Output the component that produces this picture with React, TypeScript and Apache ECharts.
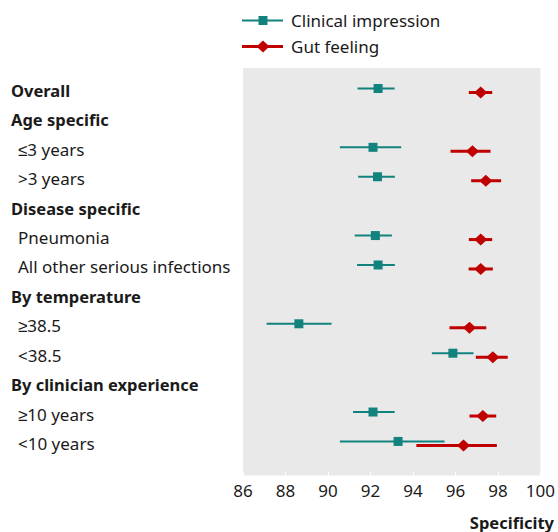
import React, { useEffect, useRef } from "react";
import * as echarts from "echarts";

const rowLabels = [
  "Overall",
  "Age specific",
  "≤3 years",
  ">3 years",
  "Disease specific",
  "Pneumonia",
  "All other serious infections",
  "By temperature",
  "≥38.5",
  "<38.5",
  "By clinician experience",
  "≥10 years",
  "<10 years",
];
const isHeader = [true, true, false, false, true, false, false, true, false, false, true, false, false];

const clinicalLow = [91.39, null, 90.56, 91.42, null, 91.26, 91.37, null, 87.11, 94.89, null, 91.18, 90.56];
const clinicalPoint = [92.36, null, 92.12, 92.33, null, 92.23, 92.36, null, 88.63, 95.88, null, 92.12, 93.3];
const clinicalHigh = [93.14, null, 93.45, 93.15, null, 93.01, 93.15, null, 90.17, 96.85, null, 93.14, 95.49];

const gutLow = [96.63, null, 95.77, 96.74, null, 96.63, 96.62, null, 95.72, 96.96, null, 96.66, 94.16];
const gutPoint = [97.19, null, 96.8, 97.43, null, 97.19, 97.19, null, 96.66, 97.76, null, 97.29, 96.38];
const gutHigh = [97.73, null, 97.65, 98.15, null, 97.73, 97.76, null, 97.45, 98.46, null, 97.92, 97.95];

const xTicks = [86, 88, 90, 92, 94, 96, 98, 100];
const seriesNames = ["Clinical impression", "Gut feeling"];
const xAxisTitle = "Specificity";

const TEAL = "#12827f";
const RED = "#c00000";
const TEXT = "#1a1a1a";
const FONT = "'Noto Sans', sans-serif";

function buildData(lo: (number | null)[], pt: (number | null)[], hi: (number | null)[]) {
  const out: number[][] = [];
  for (let i = 0; i < rowLabels.length; i++) {
    if (pt[i] == null) continue;
    out.push([i, lo[i] as number, pt[i] as number, hi[i] as number]);
  }
  return out;
}

function makeRender(color: string, off: number, lineWidth: number, shape: "square" | "diamond") {
  return (params: any, api: any) => {
    const row = api.value(0);
    const a = api.coord([api.value(1), row]);
    const p = api.coord([api.value(2), row]);
    const b = api.coord([api.value(3), row]);
    const y = a[1] + off;
    const marker =
      shape === "square"
        ? { type: "rect", shape: { x: p[0] - 4.5, y: y - 4.5, width: 9, height: 9 }, style: { fill: color } }
        : {
            type: "polygon",
            shape: { points: [[p[0], y - 6], [p[0] + 6.5, y], [p[0], y + 6], [p[0] - 6.5, y]] },
            style: { fill: color },
          };
    return {
      type: "group",
      children: [
        { type: "line", shape: { x1: a[0], y1: y, x2: b[0], y2: y }, style: { stroke: color, lineWidth } },
        marker,
      ],
    };
  };
}

export default function App() {
  const ref = useRef<HTMLDivElement>(null);
  useEffect(() => {
    if (!ref.current) return;
    const chart = echarts.init(ref.current, null, { renderer: "svg" });
    chart.setOption({
      animation: false,
      textStyle: { fontFamily: FONT },
      grid: {
        left: 243,
        right: 17,
        top: 68,
        bottom: 56.5,
        show: true,
        backgroundColor: "#e9e9e9",
        borderWidth: 0,
      },
      xAxis: {
        type: "value",
        position: "bottom",
        min: 86,
        max: 100,
        interval: 2,
        axisLine: { show: false, onZero: false },
        axisTick: { show: true, inside: true, length: 4, lineStyle: { color: "#ffffff", width: 1 } },
        splitLine: { show: false },
        axisLabel: {
          fontSize: 17,
          color: TEXT,
          fontFamily: FONT,
          margin: 6,
          formatter: (v: number) => (xTicks.includes(v) ? String(v) : ""),
        },
      },
      yAxis: {
        type: "value",
        inverse: true,
        min: -0.765,
        max: 13.09,
        axisLine: { show: false, onZero: false },
        axisTick: { show: false },
        splitLine: { show: false },
        axisLabel: {
          customValues: rowLabels.map((_, i) => i),
          align: "left",
          margin: 232,
          formatter: (v: number) => {
            const i = Math.round(v);
            const lab = rowLabels[i];
            if (lab == null) return "";
            return isHeader[i] ? `{b|${lab}}` : `{s|${lab}}`;
          },
          rich: {
            b: { fontSize: 16.5, fontWeight: "bold", color: TEXT, fontFamily: FONT },
            s: { fontSize: 17, color: TEXT, fontFamily: FONT, padding: [0, 0, 0, 7] },
          },
        },
      },
      series: [
        {
          name: seriesNames[0],
          type: "custom",
          renderItem: makeRender(TEAL, -2, 2, "square"),
          encode: { x: [1, 2, 3], y: 0 },
          data: buildData(clinicalLow, clinicalPoint, clinicalHigh),
        },
        {
          name: seriesNames[1],
          type: "custom",
          renderItem: makeRender(RED, 2, 3, "diamond"),
          encode: { x: [1, 2, 3], y: 0 },
          data: buildData(gutLow, gutPoint, gutHigh),
        },
      ],
      graphic: [
        { type: "line", shape: { x1: 242, y1: 20.5, x2: 283, y2: 20.5 }, style: { stroke: TEAL, lineWidth: 2 } },
        { type: "rect", shape: { x: 258.5, y: 16, width: 9, height: 9 }, style: { fill: TEAL } },
        {
          type: "text",
          x: 291,
          y: 20.5,
          style: { text: seriesNames[0], fontSize: 17, fill: TEXT, fontFamily: FONT, verticalAlign: "middle" },
        },
        { type: "line", shape: { x1: 242, y1: 46.5, x2: 283, y2: 46.5 }, style: { stroke: RED, lineWidth: 3 } },
        {
          type: "polygon",
          shape: { points: [[263, 40.5], [269.5, 46.5], [263, 52.5], [256.5, 46.5]] },
          style: { fill: RED },
        },
        {
          type: "text",
          x: 291,
          y: 46.5,
          style: { text: seriesNames[1], fontSize: 17, fill: TEXT, fontFamily: FONT, verticalAlign: "middle" },
        },
        {
          type: "text",
          x: 554,
          y: 522,
          style: {
            text: xAxisTitle,
            fontSize: 16.5,
            fontWeight: "bold",
            fill: TEXT,
            fontFamily: FONT,
            align: "right",
            verticalAlign: "middle",
          },
        },
      ],
    });
    return () => chart.dispose();
  }, []);
  return <div ref={ref} style={{ position: "absolute", left: 0, top: 0, width: 558, height: 532 }} />;
}
